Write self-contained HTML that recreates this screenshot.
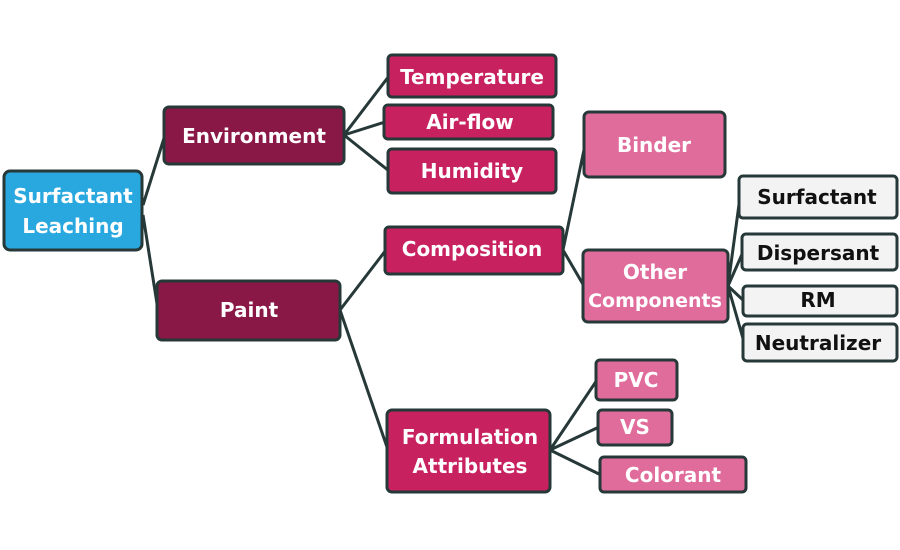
<!DOCTYPE html>
<html><head><meta charset="utf-8"><style>
html,body{margin:0;padding:0;background:#fff;}
svg{display:block;}
text{font-family:"DejaVu Sans","Liberation Sans",sans-serif;font-weight:bold;font-size:20px;text-anchor:middle;dominant-baseline:central;fill:#fff;}
.k{fill:#111;}
.s{font-size:19px;}
rect{stroke:#263838;stroke-width:3;}
line{stroke:#263838;stroke-width:3;}
</style></head><body>
<svg width="900" height="550" viewBox="0 0 900 550">
<g>
<line x1="143" y1="205" x2="165" y2="135"/>
<line x1="143" y1="215" x2="158" y2="310"/>
<line x1="344" y1="135" x2="389" y2="76"/>
<line x1="344" y1="135" x2="385" y2="122"/>
<line x1="344" y1="135" x2="389" y2="171"/>
<line x1="340" y1="310" x2="386" y2="250"/>
<line x1="340" y1="310" x2="388" y2="450"/>
<line x1="563" y1="250" x2="585" y2="145"/>
<line x1="563" y1="250" x2="584" y2="286"/>
<line x1="728" y1="286" x2="740" y2="197"/>
<line x1="728" y1="286" x2="743" y2="252"/>
<line x1="728" y1="286" x2="744" y2="301"/>
<line x1="728" y1="286" x2="744" y2="342"/>
<line x1="550" y1="450" x2="597" y2="380"/>
<line x1="550" y1="450" x2="599" y2="427"/>
<line x1="550" y1="450" x2="601" y2="475"/>
</g>
<rect x="4" y="171" width="138" height="79" rx="6" fill="#29a8df"/>
<text x="73" y="196">Surfactant</text><text x="73" y="226">Leaching</text>
<rect x="164" y="107" width="180" height="57" rx="5" fill="#8a1846"/>
<text x="254" y="136">Environment</text>
<rect x="157" y="281" width="183" height="59" rx="5" fill="#8a1846"/>
<text x="249" y="310">Paint</text>
<rect x="388" y="55" width="168" height="42" rx="4" fill="#c8215f"/>
<text x="472" y="77">Temperature</text>
<rect x="384" y="105" width="169" height="34" rx="4" fill="#c8215f"/>
<text x="470" y="122">Air-flow</text>
<rect x="388" y="149" width="168" height="44" rx="4" fill="#c8215f"/>
<text x="472" y="171">Humidity</text>
<rect x="385" y="227" width="178" height="47" rx="4" fill="#c8215f"/>
<text x="472" y="249">Composition</text>
<rect x="387" y="410" width="163" height="82" rx="5" fill="#c8215f"/>
<text x="470" y="437">Formulation</text><text x="470" y="466">Attributes</text>
<rect x="584" y="112" width="141" height="65" rx="5" fill="#e06c9c"/>
<text x="654" y="145">Binder</text>
<rect x="583" y="250" width="145" height="72" rx="5" fill="#e06c9c"/>
<text x="655" y="272">Other</text><text class="s" x="655" y="301">Components</text>
<rect x="739" y="176" width="158" height="42" rx="4" fill="#f3f3f3"/>
<text class="k" x="817" y="197">Surfactant</text>
<rect x="742" y="234" width="155" height="36" rx="4" fill="#f3f3f3"/>
<text class="k" x="818" y="253">Dispersant</text>
<rect x="743" y="286" width="154" height="30" rx="4" fill="#f3f3f3"/>
<text class="k" x="818" y="300">RM</text>
<rect x="743" y="324" width="154" height="37" rx="4" fill="#f3f3f3"/>
<text class="k" x="818" y="343">Neutralizer</text>
<rect x="596" y="360" width="81" height="40" rx="4" fill="#e06c9c"/>
<text x="636" y="380">PVC</text>
<rect x="598" y="410" width="74" height="35" rx="4" fill="#e06c9c"/>
<text x="635" y="427">VS</text>
<rect x="600" y="457" width="146" height="35" rx="4" fill="#e06c9c"/>
<text x="673" y="475">Colorant</text>
</svg>
</body></html>
